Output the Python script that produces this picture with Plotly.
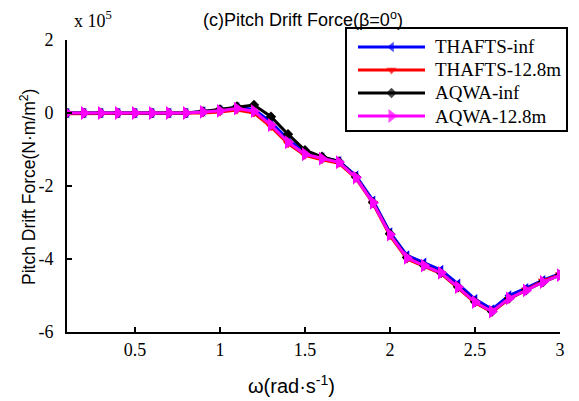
import plotly.graph_objects as go

omega = [0.1, 0.2, 0.3, 0.4, 0.5, 0.6, 0.7, 0.8, 0.9, 1.0,
         1.1, 1.2, 1.3, 1.4, 1.5, 1.6, 1.7, 1.8, 1.9, 2.0,
         2.1, 2.2, 2.3, 2.4, 2.5, 2.6, 2.7, 2.8, 2.9, 3.0]

# values in units of 1e5 N·m/m^2
thafts_inf = [0, 0, 0, 0, 0, 0, 0, 0, 0.04, 0.08,
              0.16, 0.10, -0.25, -0.72, -1.08, -1.22, -1.32, -1.72, -2.40, -3.27,
              -3.90, -4.10, -4.30, -4.68, -5.10, -5.38, -5.00, -4.80, -4.58, -4.40]
thafts_128 = [-0.02, -0.02, -0.02, -0.02, -0.02, -0.02, -0.02, -0.02, 0.0, 0.03,
              0.08, 0.0, -0.38, -0.84, -1.16, -1.28, -1.38, -1.79, -2.48, -3.36,
              -4.00, -4.20, -4.40, -4.80, -5.20, -5.46, -5.10, -4.85, -4.60, -4.43]
aqwa_inf = [0, 0, 0, 0, 0, 0, 0, 0, 0.04, 0.10,
            0.18, 0.22, -0.10, -0.58, -1.02, -1.20, -1.33, -1.75, -2.45, -3.31,
            -3.96, -4.18, -4.38, -4.76, -5.17, -5.44, -5.08, -4.86, -4.63, -4.44]
aqwa_128 = [0, 0, 0, 0, 0, 0, 0, 0, 0.03, 0.06,
            0.12, 0.05, -0.33, -0.80, -1.13, -1.25, -1.35, -1.77, -2.46, -3.33,
            -3.97, -4.18, -4.38, -4.77, -5.18, -5.44, -5.08, -4.86, -4.63, -4.44]

series_names = ["THAFTS-inf", "THAFTS-12.8m", "AQWA-inf", "AQWA-12.8m"]
series_vals = [thafts_inf, thafts_128, aqwa_inf, aqwa_128]
colors = ["#0000ff", "#ff0000", "#000000", "#ff00ff"]
symbols = ["triangle-left", "triangle-down", "diamond", "triangle-right"]
msizes = [9, 9, 8, 12]

y_ticks = [-6, -4, -2, 0, 2]
x_ticks = [0.5, 1, 1.5, 2, 2.5, 3]

W, H = 579, 401
L, R, T, B = 59, 27, 32, 77
PW, PH = W - L - R, H - T - B


def px(xf):
    """figure pixel x -> paper x"""
    return (xf - L) / PW


def py(yf):
    """figure pixel y (from top) -> paper y"""
    return (H - B - yf) / PH


fig = go.Figure()
for name, vals, c, s, ms in zip(series_names, series_vals, colors, symbols, msizes):
    fig.add_trace(go.Scatter(
        x=omega, y=vals, name=name, mode="lines+markers",
        line=dict(color=c, width=3),
        marker=dict(symbol=s, size=ms, color=c, line=dict(width=0)),
        showlegend=False,
    ))

# ---- legend (MATLAB style: long line samples with a centre marker) ----
LEG_L, LEG_R, LEG_T, LEG_B = 338, 559, 20, 123
ENTRY_Y = [39, 62, 84, 108]
PAD = 6
SAMPLE_X0, SAMPLE_X1, TEXT_X = 350, 417, 425
n = len(ENTRY_Y)
step = (ENTRY_Y[-1] - ENTRY_Y[0]) / (n - 1)
pad_u = PAD / step

fig.add_shape(type="rect", xref="paper", yref="paper",
              x0=px(LEG_L), x1=px(LEG_R), y0=py(LEG_B), y1=py(LEG_T),
              line=dict(color="black", width=2), fillcolor="white", layer="below")

for i, (name, c, s, ms) in enumerate(zip(series_names, colors, symbols, msizes)):
    fig.add_trace(go.Scatter(
        x=[0, 0.5, 1], y=[i, i, i], mode="lines+markers",
        line=dict(color=c, width=3),
        marker=dict(symbol=s, size=[0, ms, 0], color=c, line=dict(width=0)),
        xaxis="x2", yaxis="y2", showlegend=False, hoverinfo="skip",
        cliponaxis=False,
    ))
    fig.add_annotation(
        text=name, xref="paper", yref="paper", x=px(TEXT_X), y=py(ENTRY_Y[i]),
        xanchor="left", yanchor="middle", showarrow=False,
        font=dict(family="Liberation Serif", size=19, color="black"),
    )

fig.update_layout(
    width=W, height=H,
    margin=dict(l=L, r=R, t=T, b=B, autoexpand=False),
    paper_bgcolor="white", plot_bgcolor="white",
    showlegend=False,
    title=dict(
        text="(c)Pitch Drift Force(β=0<sup>o</sup>)",
        x=195 / W, xanchor="left", y=1 - 12 / H, yanchor="middle",
        font=dict(family="Liberation Sans", size=18, color="black"),
    ),
    xaxis=dict(
        range=[0.1, 3.0], tickvals=x_ticks, ticktext=[str(v) for v in x_ticks],
        showline=True, linecolor="black", linewidth=2, mirror=False,
        ticks="inside", ticklen=5, tickwidth=1.5, tickcolor="black",
        showgrid=False, zeroline=False,
        tickfont=dict(family="Liberation Serif", size=18, color="black"),
        ticklabelstandoff=0,
    ),
    yaxis=dict(
        range=[-6, 2], tickvals=y_ticks, ticktext=[str(v) for v in y_ticks],
        showline=True, linecolor="black", linewidth=2, mirror=False,
        ticks="inside", ticklen=5, tickwidth=1.5, tickcolor="black",
        showgrid=False, zeroline=False,
        tickfont=dict(family="Liberation Serif", size=18, color="black"),
        ticklabelstandoff=8,
    ),
    xaxis2=dict(domain=[px(SAMPLE_X0), px(SAMPLE_X1)], range=[0, 1],
                anchor="y2", visible=False, fixedrange=True),
    yaxis2=dict(domain=[py(ENTRY_Y[-1] + PAD), py(ENTRY_Y[0] - PAD)],
                range=[n - 1 + pad_u, -pad_u], anchor="x2", visible=False,
                fixedrange=True),
)

# axis titles
fig.add_annotation(
    text="Pitch Drift Force(N·m/m<sup>2</sup>)", xref="paper", yref="paper",
    x=px(20), y=py(179), xanchor="center", yanchor="middle", textangle=-90,
    showarrow=False, font=dict(family="Liberation Sans", size=17.5, color="black"),
)
fig.add_annotation(
    text="ω(rad·s<sup>-1</sup>)", xref="paper", yref="paper",
    x=px(283), y=py(376), xanchor="center", yanchor="middle",
    showarrow=False, font=dict(family="Liberation Sans", size=20, color="black"),
)
# exponent label
fig.add_annotation(
    text="x 10<sup>5</sup>", xref="paper", yref="paper",
    x=px(64), y=py(11), xanchor="left", yanchor="middle",
    showarrow=False, font=dict(family="Liberation Serif", size=18, color="black"),
)

fig.write_html("out.html")
